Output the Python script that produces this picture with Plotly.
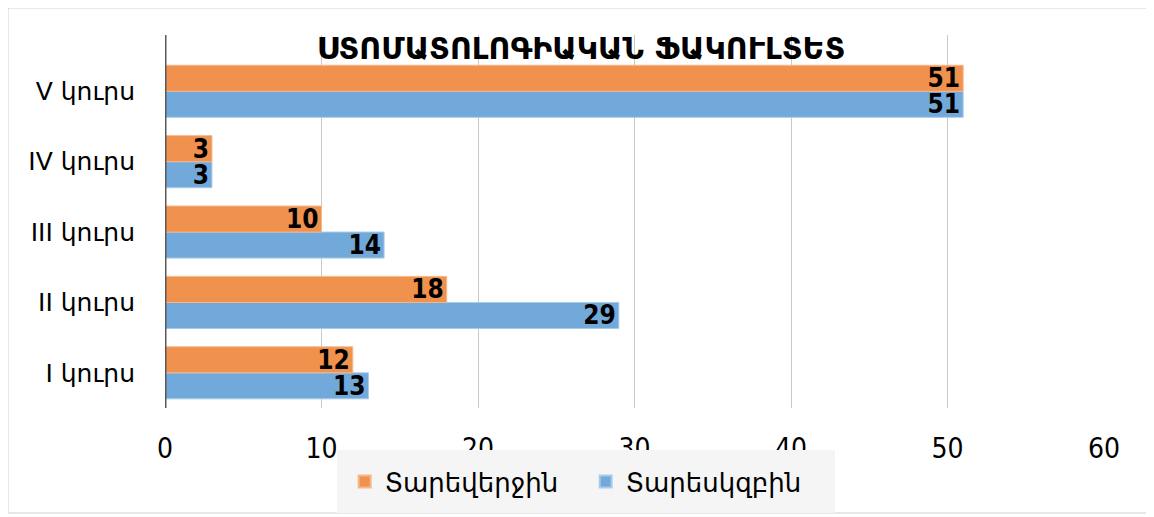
import plotly.graph_objects as go

categories = ["I կուրս", "II կուրս", "III կուրս", "IV կուրս", "V կուրս"]
end_of_year = [12, 18, 10, 3, 51]      # Տարեվերջին (orange)
start_of_year = [13, 29, 14, 3, 51]    # Տարեսկզբին (blue)
x_ticks = [0, 10, 20, 30, 40, 50, 60]
title_text = "ՍՏՈՄԱՏՈԼՈԳԻԱԿԱՆ ՖԱԿՈՒԼՏԵՏ"

label_font = dict(family="DejaVu Sans Condensed, DejaVu Sans", size=26, color="black")

fig = go.Figure()
fig.add_trace(go.Bar(
    y=categories, x=start_of_year, name="Տարեսկզբին", orientation="h",
    marker=dict(color="#72A9DB", line=dict(color="#A9CBEA", width=1)),
    text=[f"<b>{v}</b>" for v in start_of_year], textposition="inside",
    insidetextanchor="end", constraintext="none", textangle=0, textfont=label_font,
    legendrank=2,
))
fig.add_trace(go.Bar(
    y=categories, x=end_of_year, name="Տարեվերջին", orientation="h",
    marker=dict(color="#F0914E", line=dict(color="#F5B78C", width=1)),
    text=[f"<b>{v}</b>" for v in end_of_year], textposition="inside",
    insidetextanchor="end", constraintext="none", textangle=0, textfont=label_font,
    legendrank=1,
))

fig.update_layout(
    width=1154, height=517,
    margin=dict(l=157, r=58, t=27, b=117, autoexpand=False),
    paper_bgcolor="white", plot_bgcolor="white",
    barmode="group", bargap=0.26, bargroupgap=0.0,
    title=dict(text="<b>" + title_text + "</b>", x=0.4965, xanchor="center",
               y=1 - 40 / 517, yanchor="middle", yref="container",
               font=dict(family="DejaVu Sans", size=30, color="black")),
    showlegend=True,
    legend=dict(orientation="h", x=0.448, xanchor="center", y=-0.1126, yanchor="top",
                bgcolor="#F5F5F5", bordercolor="#F5F5F5", borderwidth=8,
                font=dict(family="DejaVu Sans", size=26, color="black"),
                itemsizing="constant", itemwidth=30, entrywidth=196),
    font=dict(family="DejaVu Sans", color="black"),
    xaxis=dict(range=[0, 60], tickvals=x_ticks, showgrid=True, gridcolor="#C8C8C8",
               gridwidth=1, zeroline=False, showline=False, ticks="",
               ticklabelstandoff=21, automargin=False,
               tickfont=dict(family="DejaVu Sans Condensed, Roboto Condensed, Roboto", size=28, color="black")),
    yaxis=dict(range=[-0.5, 4.8], showgrid=False, zeroline=False, showline=False,
               ticks="", ticklabelstandoff=29, automargin=False,
               tickfont=dict(family="DejaVu Sans", size=25, color="black")),
    shapes=[
        dict(type="line", xref="x", yref="paper", x0=0, x1=0, y0=0, y1=1,
             line=dict(color="#595959", width=3)),
        dict(type="rect", xref="paper", yref="paper", x0=-0.1672, x1=1.0469,
             y0=-0.2815, y1=1.0724, line=dict(color="#D0D0D0", width=1), layer="below"),
    ],
)

fig.write_html("out.html")
